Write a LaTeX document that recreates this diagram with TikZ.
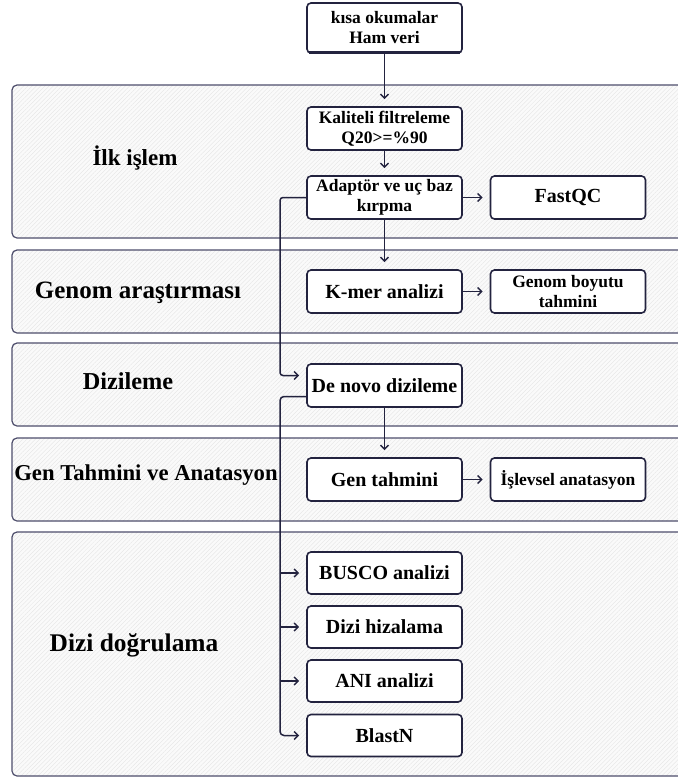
\documentclass[tikz,border=0pt]{standalone}
\usepackage{fontspec}
\setmainfont{Liberation Serif}
\usetikzlibrary{arrows.meta,patterns.meta}
\definecolor{navy}{HTML}{23233F}
\definecolor{lanebd}{HTML}{4E4E6C}
\begin{document}
\begin{tikzpicture}[x=1pt,y=-1pt,
  lane/.style={draw=lanebd, line width=1.2pt, rounded corners=5pt,
    preaction={fill=gray!4},
    pattern={Lines[angle=45,distance=3pt,line width=0.35pt]}, pattern color=gray!22},
  lanelbl/.style={font=\bfseries\fontsize{#1}{26}\selectfont, text=black},
  box/.style={draw=navy, line width=1.6pt, rounded corners=4pt, fill=white,
    minimum width=155pt, minimum height=43pt, align=center, inner sep=1pt,
    font=\bfseries\fontsize{20}{22}\selectfont},
  sbox/.style={box, font=\bfseries\fontsize{17.5}{20}\selectfont},
  arr/.style={draw=navy, line width=1.5pt, -{Straight Barb[length=4pt,width=8pt]}, shorten >=7pt}
]
\useasboundingbox (0,0) rectangle (678,780);
\clip (0,0) rectangle (678,780);
\fill[white] (0,0) rectangle (678,780);

% lanes
\draw[lane] (12,85) rectangle (690,238);
\draw[lane] (12,250) rectangle (690,333);
\draw[lane] (12,343) rectangle (690,426);
\draw[lane] (12,438) rectangle (690,521);
\draw[lane] (12,532) rectangle (690,776);

\node[lanelbl=23] (l1) at (135,158) {İlk işlem};
\node[lanelbl=25] (l2) at (138,293) {Genom araştırması};
\node[lanelbl=24.3] (l3) at (128,381) {Dizileme};
\node[lanelbl=22.7] (l4) at (146,475) {Gen Tahmini ve Anatasyon};
\node[lanelbl=25.4] (l5) at (134,645) {Dizi doğrulama};

% boxes
\node[sbox, minimum height=50pt] (top) at (384.5,28) {kısa okumalar\\Ham veri};
\draw[navy, line width=3pt] ([xshift=3pt,yshift=1pt]top.south west) -- ([xshift=-3pt,yshift=1pt]top.south east);
\node[sbox] (kal) at (384.5,128.5) {Kaliteli filtreleme\\Q20>=\%90};
\node[sbox] (adap) at (384.5,197.5) {Adaptör ve uç baz\\kırpma};
\node[box] (fastqc) at (568,197.5) {FastQC};
\node[box] (kmer) at (384.5,291.5) {K-mer analizi};
\node[sbox] (genom) at (568,291.5) {Genom boyutu\\tahmini};
\node[box] (denovo) at (384.5,385.5) {De novo dizileme};
\node[box] (gent) at (384.5,479.5) {Gen tahmini};
\node[sbox] (islev) at (568,479.5) {İşlevsel anatasyon};
\node[box, minimum height=42pt] (busco) at (384.5,573) {BUSCO analizi};
\node[box, minimum height=42pt] (hiz) at (384.5,627) {Dizi hizalama};
\node[box, minimum height=42pt] (ani) at (384.5,681) {ANI analizi};
\node[box, minimum height=42pt] (blast) at (384.5,735.5) {BlastN};

\coordinate (bus) at (280,0);

% connectors
\draw[arr] (top) -- (kal);
\draw[arr] (kal) -- (adap);
\draw[arr] (adap) -- (fastqc);
\draw[arr] (adap) -- (kmer);
\draw[arr] (kmer) -- (genom);
\draw[arr] (denovo) -- (gent);
\draw[arr] (gent) -- (islev);
\draw[arr, rounded corners=3pt] (adap.west) -- (adap.west -| bus) |- ([yshift=10pt]denovo.west);
\draw[arr, rounded corners=4pt] ([yshift=-11pt]denovo.west) -| (bus |- blast.west) -- (blast.west);
\draw[arr] (bus |- busco.west) -- (busco.west);
\draw[arr] (bus |- hiz.west) -- (hiz.west);
\draw[arr] (bus |- ani.west) -- (ani.west);
\end{tikzpicture}
\end{document}
